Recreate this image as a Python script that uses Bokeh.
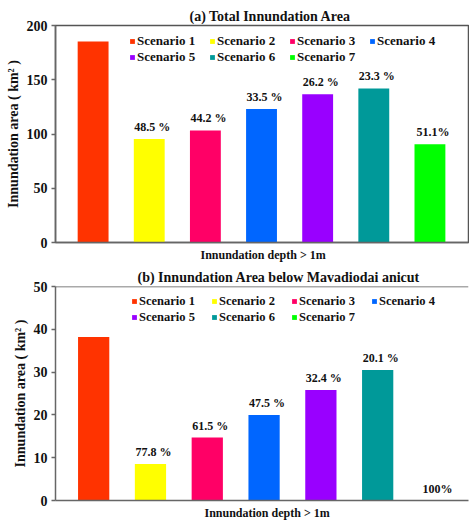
from bokeh.plotting import figure
from bokeh.models import (ColumnDataSource, Range1d, FixedTicker, Legend, LegendItem,
                          Title, Span)
from bokeh.layouts import column
from bokeh.core.properties import value
from bokeh.embed import file_html
from bokeh.resources import INLINE

scenarios = ["Scenario 1", "Scenario 2", "Scenario 3", "Scenario 4",
             "Scenario 5", "Scenario 6", "Scenario 7"]
colors = ["#FF3300", "#FFFF00", "#FF0066", "#0066FF", "#9900FF", "#009999", "#00FF00"]

total_area = [185.2, 95.3, 103.3, 123.1, 136.6, 142.0, 90.5]
total_pct = ["", "48.5 %", "44.2 %", "33.5 %", "26.2 %", "23.3 %", "51.1%"]

below_area = [38.2, 8.5, 14.7, 20.0, 25.8, 30.5, 0.0]
below_pct = ["", "77.8 %", "61.5 %", "47.5 %", "32.4 %", "20.1 %", "100%"]

title_a = "(a) Total Innundation Area"
title_b = "(b) Innundation Area below Mavadiodai anicut"
xlabel = "Innundation depth > 1m"
ylabel = "Innundation area ( km\u00b2 )"
yticks_a = [0, 50, 100, 150, 200]
yticks_b = [0, 10, 20, 30, 40, 50]

FONT = "Liberation Serif, Times New Roman, serif"


def make_panel(title, area, pct, yticks, height, xr, legend_xy, legend_font,
               frame_outline, border_top, border_left, title_off, xlabel_off):
    src = ColumnDataSource(dict(x=list(range(1, len(area) + 1)), val=area,
                                color=colors, pct=pct, name=scenarios))
    p = figure(width=469, height=height, output_backend="svg", toolbar_location=None,
               x_range=Range1d(*xr), y_range=Range1d(yticks[0], yticks[-1]),
               min_border_left=border_left, min_border_right=1,
               min_border_top=border_top, min_border_bottom=0)
    p.title.text = title
    p.title.text_font = FONT
    p.title.text_font_style = "bold"
    p.title.text_font_size = "14px"
    p.title.align = "left"
    p.title.offset = title_off
    p.title.standoff = 3
    p.title.text_color = "#111111"

    r = p.vbar(x="x", top="val", width=0.55, color="color", line_color=None,
               source=src)
    p.text(x="x", y="val", text="pct", source=src, text_align="center",
           text_baseline="bottom", y_offset=-5, x_offset=3,
           text_font=value(FONT), text_font_style="bold", text_font_size="12px",
           text_color="#111111")

    p.xgrid.visible = False
    p.ygrid.visible = False
    p.background_fill_color = "white"
    p.border_fill_color = "white"
    if frame_outline:
        p.outline_line_color = "#555555"
        p.outline_line_width = 1.5
    else:
        p.outline_line_color = None
        p.add_layout(Span(location=yticks[-1], dimension="width",
                          line_color="#555555", line_width=1.5))

    xa = p.xaxis[0]
    xa.ticker = FixedTicker(ticks=[])
    xa.major_tick_line_color = None
    xa.minor_tick_line_color = None
    xa.major_tick_out = 0
    xa.major_tick_in = 0
    xa.major_label_standoff = 0
    xa.axis_line_color = "#666666"
    xa.axis_line_width = 1.5
    xa.major_label_text_font_size = "0px"

    ya = p.yaxis[0]
    ya.ticker = FixedTicker(ticks=yticks)
    ya.minor_tick_line_color = None
    ya.major_tick_out = 4
    ya.major_tick_in = 0
    ya.major_tick_line_color = "#666666"
    ya.major_tick_line_width = 1.5
    ya.axis_line_color = "#666666"
    ya.axis_line_width = 1.5
    ya.major_label_text_font = FONT
    ya.major_label_text_font_style = "bold"
    ya.major_label_text_font_size = "14px"
    ya.major_label_text_color = "#111111"
    ya.major_label_standoff = 4
    ya.axis_label = ylabel
    ya.axis_label_text_font = FONT
    ya.axis_label_text_font_style = "bold"
    ya.axis_label_text_font_size = "14px"
    ya.axis_label_text_color = "#111111"
    ya.axis_label_standoff = 3

    xt = Title(text=xlabel, align="left", offset=xlabel_off, text_font=FONT,
               text_font_style="bold", text_font_size="12px", text_color="#111111",
               standoff=7)
    p.add_layout(xt, "below")

    order = [0, 4, 1, 5, 2, 6, 3]
    items = [LegendItem(label=scenarios[i], renderers=[r], index=i) for i in order]
    leg = Legend(items=items, location=legend_xy, ncols=4, padding=0, spacing=0,
                 glyph_width=6, glyph_height=6, label_standoff=2,
                 label_width=72, label_height=16,
                 label_text_font=FONT, label_text_font_style="bold",
                 label_text_font_size=legend_font, label_text_color="#111111",
                 border_line_color=None, background_fill_alpha=0,
                 margin=0)
    p.add_layout(leg, "center")
    return p


pa = make_panel(title_a, total_area, total_pct, yticks_a, 265, (0.330, 7.687),
                (74, 177), "13px", True, 25, 53, 134, 145)
pb = make_panel(title_b, below_area, below_pct, yticks_b, 258, (0.328, 7.599),
                (76, 175), "12.5px", False, 21, 55, 82, 149)

layout = column(pa, pb, spacing=0)
open("out.html", "w").write(file_html(layout, INLINE))
